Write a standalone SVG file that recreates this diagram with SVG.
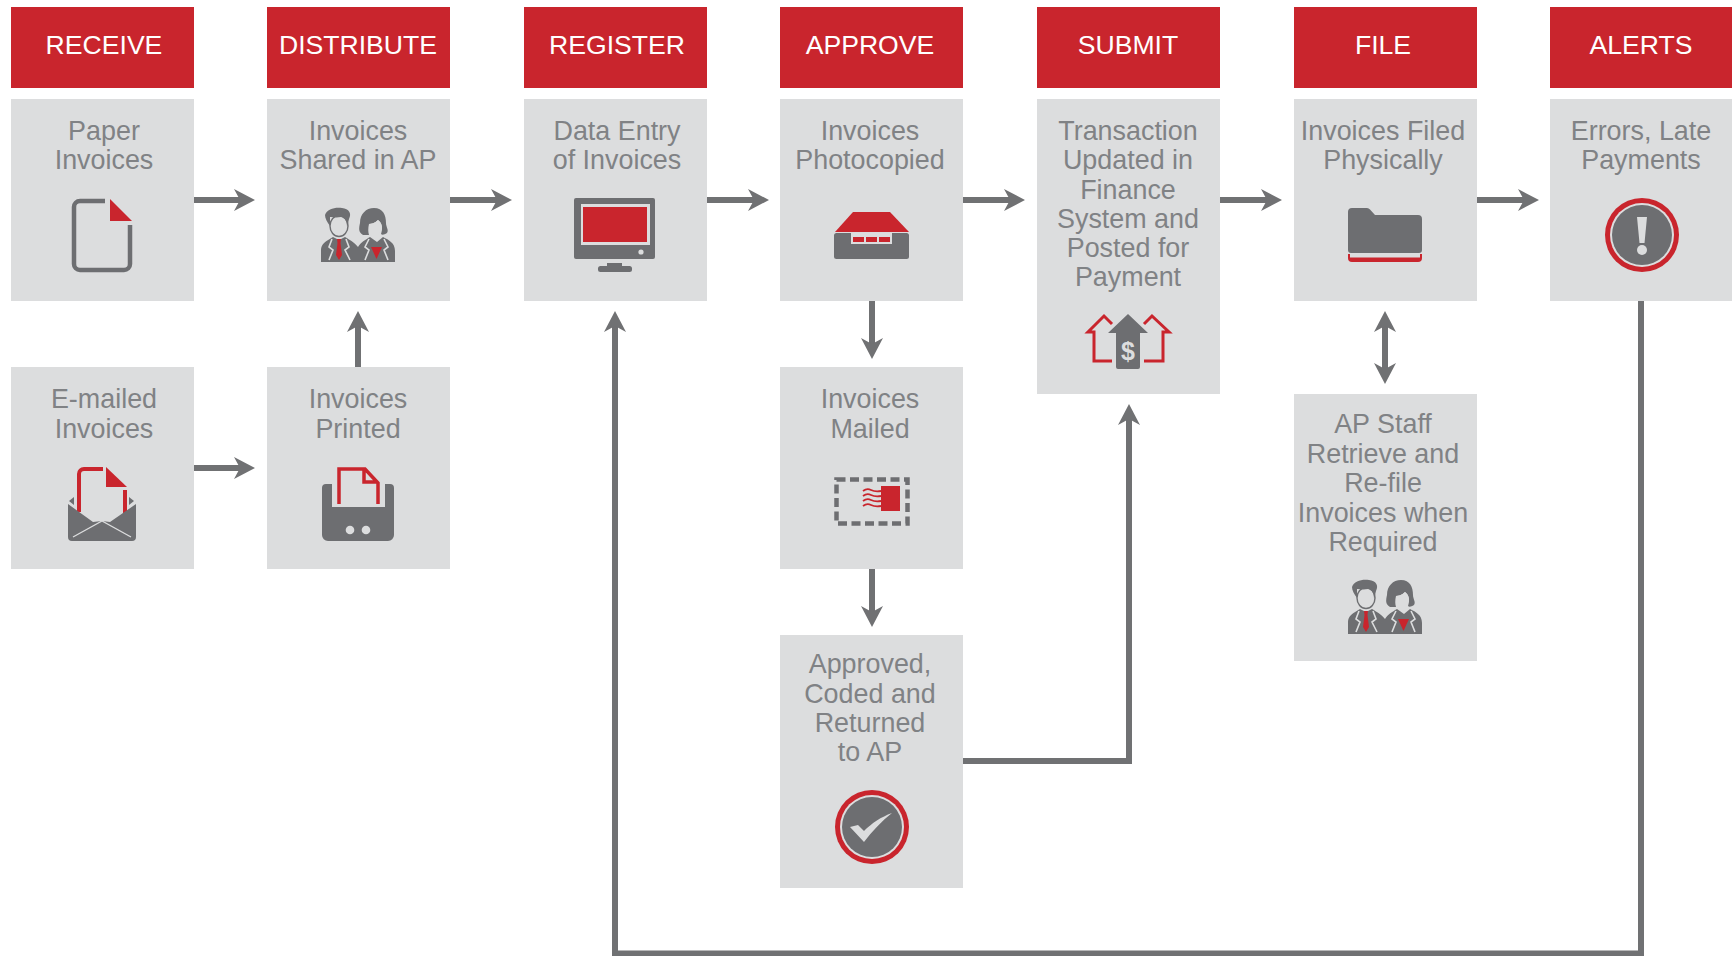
<svg xmlns="http://www.w3.org/2000/svg" width="1732" height="956" viewBox="0 0 1732 956">
<style>
.hd{fill:#c9252d}
.bx{fill:#dcddde}
.ht{font:26.600px "Liberation Sans",Arial,sans-serif;fill:#fff;text-anchor:middle}
.bt{font:26.900px "Liberation Sans",Arial,sans-serif;fill:#808285;text-anchor:middle}
.d{fill:#6d6e71}
.r{fill:#c9252d}
.l{fill:#dcddde}
.sd{fill:none;stroke:#6d6e71}
.sr{fill:none;stroke:#c9252d}
.sl{fill:none;stroke:#dcddde}
.c{fill:none;stroke:#707173;stroke-width:6}
</style>
<defs>
<marker id="a" markerUnits="userSpaceOnUse" markerWidth="24" markerHeight="26" refX="6" refY="12" orient="auto-start-reverse" overflow="visible">
<path d="M0,1 L21,12 L0,23 L6,12Z" fill="#707173"/>
</marker>
<g id="people">
<path class="d" d="M0,54 V42 C0,36 5,33 12,29 L18,32 L24,29 C29,32 33,34 37,39 C40,34 44,32 49,29 L56,34 L62,29 C68,32 74,35 74,43 V54 H0Z"/>
<path class="sl" stroke-width="1.600" d="M11,31 L8,39 L12,42 L8,52 M25,31 L28,39 L24,42 L29,52 M48,31 L44,39 L48,42 L44,52 M63,31 L67,39 L63,42 L67,52"/>
<ellipse class="l" cx="18" cy="18" rx="9" ry="10.500" stroke="#6d6e71" stroke-width="1.400"/>
<path class="d" d="M4,7 C6,1 14,-1 21,0 C28,1 31,5 28,11 L26,19 C26,13 24,10 20,9 C15,10 11,9 9,9 L9,18 C6,14 4,10 4,7Z"/>
<path class="r" d="M16,31 H20 L19.500,35 L21,47 L18,52 L15,47 L16.500,35Z"/>
<path class="d" d="M42,27 C37,24 38,20 39,15 C39,6 45,0 53,0 C62,0 65,7 65,15 C65,19 68,22 66,25 C63,27 61,27 60,26 C62,20 61,15 57,12 C54,15 50,16 48,16 C47,20 47,24 48,27Z"/>
<path class="l" d="M48,16 C50,16 54,15 57,12 C61,15 62,20 60,23 C58,27 55,29 53,29 C50,28 48,25 48,16Z"/>
<path class="r" d="M50,39 H61 L55.500,51Z"/>
</g>
</defs>

<g id="connectors">
<path class="c" marker-end="url(#a)" d="M194,200 H240"/>
<path class="c" marker-end="url(#a)" d="M450,200 H497"/>
<path class="c" marker-end="url(#a)" d="M707,200 H754"/>
<path class="c" marker-end="url(#a)" d="M963,200 H1010"/>
<path class="c" marker-end="url(#a)" d="M1220,200 H1267"/>
<path class="c" marker-end="url(#a)" d="M1477,200 H1524"/>
<path class="c" marker-end="url(#a)" d="M194,468 H240"/>
<path class="c" marker-end="url(#a)" d="M358,367 V326"/>
<path class="c" marker-end="url(#a)" d="M872,300 V344"/>
<path class="c" marker-end="url(#a)" d="M872,569 V612"/>
<path class="c" marker-start="url(#a)" marker-end="url(#a)" d="M1385,326 V369"/>
<path class="c" marker-end="url(#a)" d="M963,761 H1129 V419"/>
<path class="c" marker-end="url(#a)" d="M1641,300 V953.500 H615 V326"/>
</g>

<g id="receive"><rect class="hd" x="11" y="7" width="183" height="81"/><text class="ht" x="104" y="53.500">RECEIVE</text></g>
<g id="distribute"><rect class="hd" x="267" y="7" width="183" height="81"/><text class="ht" x="358" y="53.500">DISTRIBUTE</text></g>
<g id="register"><rect class="hd" x="524" y="7" width="183" height="81"/><text class="ht" x="617" y="53.500">REGISTER</text></g>
<g id="approve"><rect class="hd" x="780" y="7" width="183" height="81"/><text class="ht" x="870" y="53.500">APPROVE</text></g>
<g id="submit"><rect class="hd" x="1037" y="7" width="183" height="81"/><text class="ht" x="1128" y="53.500">SUBMIT</text></g>
<g id="file"><rect class="hd" x="1294" y="7" width="183" height="81"/><text class="ht" x="1383" y="53.500">FILE</text></g>
<g id="alerts"><rect class="hd" x="1550" y="7" width="183" height="81"/><text class="ht" x="1641" y="53.500">ALERTS</text></g>

<g id="paper-invoices">
<rect class="bx" x="11" y="99" width="183" height="202"/>
<text class="bt" x="104" y="140">Paper</text><text class="bt" x="104" y="169">Invoices</text>
<path class="sd" stroke-width="4.500" d="M105,201 H80 a6,6 0 0 0 -6,6 V264 a6,6 0 0 0 6,6 H124 a6,6 0 0 0 6,-6 V225"/>
<path class="r" d="M110,199 L132,221 H110Z"/>
</g>
<g id="invoices-shared">
<rect class="bx" x="267" y="99" width="183" height="202"/>
<text class="bt" x="358" y="140">Invoices</text><text class="bt" x="358" y="169">Shared in AP</text>
<use href="#people" transform="translate(321,208)"/>
</g>
<g id="data-entry">
<rect class="bx" x="524" y="99" width="183" height="202"/>
<text class="bt" x="617" y="140">Data Entry</text><text class="bt" x="617" y="169">of Invoices</text>
<rect class="d" x="574" y="198" width="81" height="61" rx="2"/>
<rect class="l" x="581" y="204" width="69" height="41"/>
<rect class="r" x="583" y="207" width="64" height="35"/>
<circle class="l" cx="641" cy="252" r="2.600"/>
<rect class="d" x="607" y="263" width="15" height="6"/>
<rect class="d" x="598" y="266" width="34" height="6" rx="2.500"/>
</g>
<g id="photocopied">
<rect class="bx" x="780" y="99" width="183" height="202"/>
<text class="bt" x="870" y="140">Invoices</text><text class="bt" x="870" y="169">Photocopied</text>
<rect class="d" x="834" y="233" width="75" height="26" rx="2.500"/>
<path class="r" d="M853,212 H890 L909,232 H835Z"/>
<rect class="l" x="851" y="233" width="41" height="11"/>
<rect class="r" x="853" y="237" width="11" height="5"/><rect class="r" x="866" y="237" width="11" height="5"/><rect class="r" x="879" y="237" width="11" height="5"/>
</g>
<g id="transaction">
<rect class="bx" x="1037" y="99" width="183" height="295"/>
<text class="bt" x="1128" y="140">Transaction</text><text class="bt" x="1128" y="169">Updated in</text><text class="bt" x="1128" y="199">Finance</text><text class="bt" x="1128" y="228">System and</text><text class="bt" x="1128" y="257">Posted for</text><text class="bt" x="1128" y="286">Payment</text>
<path class="sr" stroke-width="3" d="M1112,324 L1104,316 L1088,332 H1094 V361 H1112 M1144,324 L1152,316 L1169,332 H1163 V361 H1144"/>
<path class="d" d="M1128,314 L1148,333 H1140 V367 a2,2 0 0 1 -2,2 H1118 a2,2 0 0 1 -2,-2 V333 H1108Z"/>
<text x="1128" y="360" font-family="'Liberation Sans',Arial,sans-serif" font-weight="700" font-size="25" fill="#dcddde" text-anchor="middle">$</text>
</g>
<g id="filed">
<rect class="bx" x="1294" y="99" width="183" height="202"/>
<text class="bt" x="1383" y="140">Invoices Filed</text><text class="bt" x="1383" y="169">Physically</text>
<path class="r" d="M1348,254 H1422 V258 a4,4 0 0 1 -4,4 H1352 a4,4 0 0 1 -4,-4Z"/>
<rect class="l" x="1350" y="253" width="70" height="4.500"/>
<path class="d" d="M1348,212 a4,4 0 0 1 4,-4 H1367 a4,4 0 0 1 3,1.500 L1375,215 H1418 a4,4 0 0 1 4,4 V250 a3,3 0 0 1 -3,3 H1351 a3,3 0 0 1 -3,-3Z"/>
</g>
<g id="errors">
<rect class="bx" x="1550" y="99" width="183" height="202"/>
<text class="bt" x="1641" y="140">Errors, Late</text><text class="bt" x="1641" y="169">Payments</text>
<circle class="r" cx="1642" cy="235" r="37"/><circle class="l" cx="1642" cy="235" r="32"/><circle class="d" cx="1642" cy="235" r="30"/>
<path class="l" d="M1637,217 H1647 L1644.500,243 H1639.500Z"/><circle class="l" cx="1642" cy="250" r="5"/>
</g>
<g id="emailed">
<rect class="bx" x="11" y="367" width="183" height="202"/>
<text class="bt" x="104" y="408">E-mailed</text><text class="bt" x="104" y="438">Invoices</text>
<path class="sr" stroke-width="4" d="M79,512 V474 a5,5 0 0 1 5,-5 H103 M125,490 V513"/>
<path class="r" d="M106,467 L127,487 H106Z"/>
<path class="d" d="M68,504 L93,522 L102,521 L110,522 L136,504 V537 a4,4 0 0 1 -4,4 H72 a4,4 0 0 1 -4,-4Z M74,497 V505 L69,501Z M129,497 V505 L134,501Z"/>
<path class="sl" stroke-width="1.300" d="M73,537 L102,521 L131,537"/>
</g>
<g id="printed">
<rect class="bx" x="267" y="367" width="183" height="202"/>
<text class="bt" x="358" y="408">Invoices</text><text class="bt" x="358" y="438">Printed</text>
<path class="d" d="M326,484 H332 V507 H385 V484 H390 a4,4 0 0 1 4,4 V535 a6,6 0 0 1 -6,6 H328 a6,6 0 0 1 -6,-6 V488 a4,4 0 0 1 4,-4Z"/>
<path class="sr" stroke-width="3.500" d="M339,504 V469 H365 L378,483 V504 M364,469 V482 H378"/>
<circle class="l" cx="350" cy="530" r="4.300"/><circle class="l" cx="366" cy="530" r="4.300"/>
</g>
<g id="mailed">
<rect class="bx" x="780" y="367" width="183" height="202"/>
<text class="bt" x="870" y="408">Invoices</text><text class="bt" x="870" y="438">Mailed</text>
<rect class="sd" x="836.500" y="479.500" width="71" height="44" stroke-width="4.500" stroke-dasharray="9 4.500"/>
<rect class="r" x="881" y="486" width="19" height="25"/>
<path class="sr" stroke-width="1.800" d="M863,491 q4,-3 8,-1 t10,1 M863,496 q4,-3 8,-1 t10,1 M863,501 q4,-3 8,-1 t10,1 M863,506 q4,-3 8,-1 t10,1"/>
</g>
<g id="returned">
<rect class="bx" x="780" y="635" width="183" height="253"/>
<text class="bt" x="870" y="673">Approved,</text><text class="bt" x="870" y="702.500">Coded and</text><text class="bt" x="870" y="732">Returned</text><text class="bt" x="870" y="761">to AP</text>
<circle class="r" cx="872" cy="827" r="37"/><circle class="l" cx="872" cy="827" r="32"/><circle class="d" cx="872" cy="827" r="30"/>
<path class="l" d="M850,827 L858,825 L864,831 C872,823 881,817 892,813 C882,821 872,831 864,842Z"/>
</g>
<g id="ap-staff">
<rect class="bx" x="1294" y="394" width="183" height="267"/>
<text class="bt" x="1383" y="433">AP Staff</text><text class="bt" x="1383" y="463">Retrieve and</text><text class="bt" x="1383" y="492">Re-file</text><text class="bt" x="1383" y="522">Invoices when</text><text class="bt" x="1383" y="551">Required</text>
<use href="#people" transform="translate(1348,580)"/>
</g>
</svg>
